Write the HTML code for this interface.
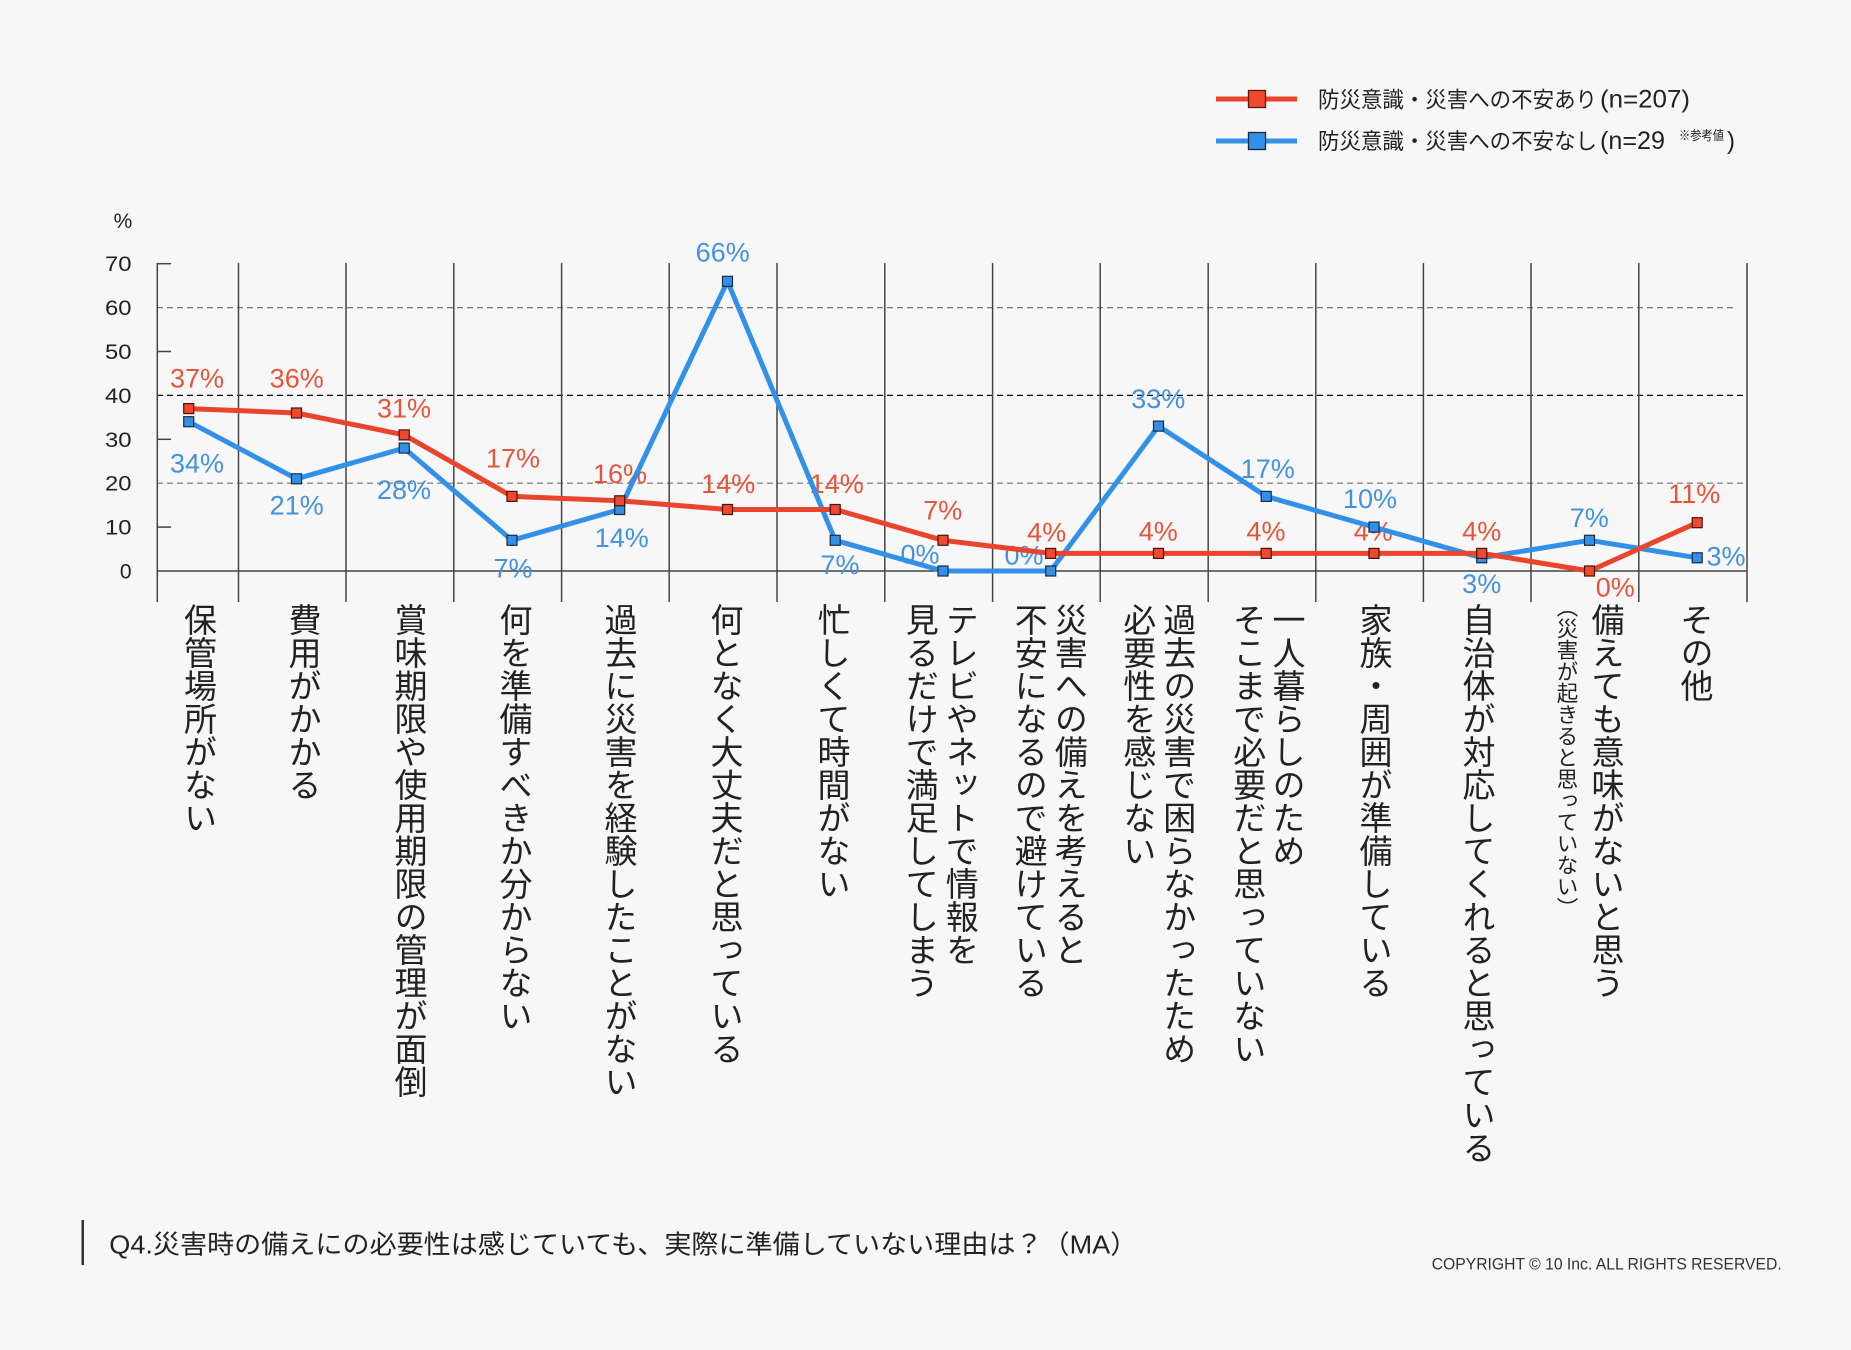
<!DOCTYPE html>
<html lang="ja">
<head>
<meta charset="utf-8">
<style>
  html,body{margin:0;padding:0;}
  body{width:1851px;height:1350px;overflow:hidden;background:#f7f7f7;position:relative;
       font-family:"Liberation Sans","Noto Sans CJK JP",sans-serif;}
  svg{position:absolute;left:0;top:0;}
  .v{position:absolute;top:603px;writing-mode:vertical-rl;font-family:"Liberation Sans","Noto Sans CJK JP",sans-serif;
     font-size:33px;line-height:40px;width:40px;white-space:nowrap;color:#222;}
  .vs{position:absolute;top:596px;writing-mode:vertical-rl;font-family:"Liberation Sans","Noto Sans CJK JP",sans-serif;
     font-size:21.5px;line-height:26px;width:26px;white-space:nowrap;color:#222;}
</style>
</head>
<body>
<svg width="1851" height="1350" viewBox="0 0 1851 1350" xmlns="http://www.w3.org/2000/svg">
  <!-- legend -->
  <g>
    <line x1="1216" y1="99" x2="1297" y2="99" stroke="#e8452c" stroke-width="5"/>
    <rect x="1248.5" y="90.5" width="17" height="17" fill="#ef4a30" stroke="#5a1a10" stroke-width="1.3"/>
    <line x1="1216" y1="141" x2="1297" y2="141" stroke="#3390e8" stroke-width="5"/>
    <rect x="1248.5" y="132.5" width="17" height="17" fill="#3390e8" stroke="#1a2a40" stroke-width="1.3"/>
    <text font-family="Liberation Sans, Noto Sans CJK JP, sans-serif" font-size="22" fill="#222">
      <tspan x="1318" y="107.5" textLength="279" lengthAdjust="spacingAndGlyphs">防災意識・災害への不安あり</tspan>
      <tspan x="1600" y="107.5" font-size="25" textLength="90" lengthAdjust="spacingAndGlyphs">(n=207)</tspan>
    </text>
    <text font-family="Liberation Sans, Noto Sans CJK JP, sans-serif" font-size="22" fill="#222">
      <tspan x="1318" y="149" textLength="279" lengthAdjust="spacingAndGlyphs">防災意識・災害への不安なし</tspan>
      <tspan x="1600" y="149" font-size="25" textLength="65" lengthAdjust="spacingAndGlyphs">(n=29</tspan>
      <tspan x="1679" y="140" font-size="13" textLength="45" lengthAdjust="spacingAndGlyphs">※参考値</tspan>
      <tspan x="1727" y="149" font-size="25" textLength="8" lengthAdjust="spacingAndGlyphs">)</tspan>
    </text>
  </g>

  <!-- y axis labels -->
  <g font-family="Liberation Sans, sans-serif" font-size="21" fill="#222" text-anchor="end">
    <text x="123" y="228" text-anchor="middle">%</text>
    <text x="131.5" y="271.2" textLength="26.5" lengthAdjust="spacingAndGlyphs">70</text>
    <text x="131.5" y="315.1" textLength="26.5" lengthAdjust="spacingAndGlyphs">60</text>
    <text x="131.5" y="359.0" textLength="26.5" lengthAdjust="spacingAndGlyphs">50</text>
    <text x="131.5" y="402.9" textLength="26.5" lengthAdjust="spacingAndGlyphs">40</text>
    <text x="131.5" y="446.8" textLength="26.5" lengthAdjust="spacingAndGlyphs">30</text>
    <text x="131.5" y="490.7" textLength="26.5" lengthAdjust="spacingAndGlyphs">20</text>
    <text x="131.5" y="534.6" textLength="26.5" lengthAdjust="spacingAndGlyphs">10</text>
    <text x="131.5" y="578.5">0</text>
  </g>

  <!-- gridlines -->
  <g fill="none">
    <line x1="157" y1="307.6" x2="1734" y2="307.6" stroke="#777" stroke-width="1.3" stroke-dasharray="6,4"/>
    <line x1="157" y1="395.4" x2="1744" y2="395.4" stroke="#111" stroke-width="1.3" stroke-dasharray="6,4"/>
    <line x1="157" y1="483.2" x2="1744" y2="483.2" stroke="#888" stroke-width="1.3" stroke-dasharray="6,4"/>
    <line x1="157" y1="571" x2="1747" y2="571" stroke="#444" stroke-width="1.6"/>
    <!-- ticks -->
    <line x1="157" y1="263.7" x2="171" y2="263.7" stroke="#444" stroke-width="1.5"/>
    <line x1="157" y1="351.5" x2="171" y2="351.5" stroke="#444" stroke-width="1.5"/>
    <line x1="157" y1="439.3" x2="171" y2="439.3" stroke="#444" stroke-width="1.5"/>
    <line x1="157" y1="527.1" x2="171" y2="527.1" stroke="#444" stroke-width="1.5"/>
    <!-- vertical lines -->
    <g stroke="#444" stroke-width="1.5">
      <line x1="157.3" y1="263" x2="157.3" y2="602"/>
      <line x1="238.5" y1="263" x2="238.5" y2="602"/>
      <line x1="346" y1="263" x2="346" y2="602"/>
      <line x1="453.8" y1="263" x2="453.8" y2="602"/>
      <line x1="561.6" y1="263" x2="561.6" y2="602"/>
      <line x1="669.2" y1="263" x2="669.2" y2="602"/>
      <line x1="777" y1="263" x2="777" y2="602"/>
      <line x1="884.8" y1="263" x2="884.8" y2="602"/>
      <line x1="992.6" y1="263" x2="992.6" y2="602"/>
      <line x1="1100.2" y1="263" x2="1100.2" y2="602"/>
      <line x1="1208.2" y1="263" x2="1208.2" y2="602"/>
      <line x1="1315.8" y1="263" x2="1315.8" y2="602"/>
      <line x1="1423.4" y1="263" x2="1423.4" y2="602"/>
      <line x1="1531" y1="263" x2="1531" y2="602"/>
      <line x1="1638.8" y1="263" x2="1638.8" y2="602"/>
      <line x1="1747" y1="263" x2="1747" y2="602"/>
    </g>
  </g>

  <!-- data labels -->
  <g font-family="Liberation Sans, sans-serif" font-size="27" text-anchor="middle">
    <g fill="#e5553b">
      <text x="197" y="387.7">37%</text>
      <text x="296.7" y="387.7">36%</text>
      <text x="404" y="417.7">31%</text>
      <text x="513" y="467.7">17%</text>
      <text x="620" y="483">16%</text>
      <text x="728.3" y="493">14%</text>
      <text x="836.7" y="493">14%</text>
      <text x="942.7" y="519.7">7%</text>
      <text x="1046.7" y="541.4">4%</text>
      <text x="1158.3" y="540.4">4%</text>
      <text x="1266" y="540.4">4%</text>
      <text x="1373.3" y="540.4">4%</text>
      <text x="1481.7" y="540.4">4%</text>
      <text x="1615.3" y="596.4">0%</text>
      <text x="1694.3" y="503">11%</text>
    </g>
    <g fill="#4392dc">
      <text x="197" y="472.4">34%</text>
      <text x="296.7" y="514.7">21%</text>
      <text x="404" y="499">28%</text>
      <text x="513" y="577.4">7%</text>
      <text x="621.7" y="547">14%</text>
      <text x="722.7" y="261.4">66%</text>
      <text x="840" y="574">7%</text>
      <text x="920" y="563.7">0%</text>
      <text x="1024" y="564.7">0%</text>
      <text x="1158.3" y="408">33%</text>
      <text x="1267.7" y="478">17%</text>
      <text x="1370" y="508">10%</text>
      <text x="1481.7" y="593">3%</text>
      <text x="1589.3" y="527">7%</text>
      <text x="1726" y="565.7">3%</text>
    </g>
  </g>

  <!-- series lines -->
  <polyline fill="none" stroke="#3390e8" stroke-width="5" stroke-linejoin="round"
    points="188.7,421.7 296.5,478.8 404.2,448.1 512,540.3 619.7,509.5 727.5,281.3 835.2,540.3 943,571 1050.7,571 1158.5,426.1 1266.2,496.4 1374,527.1 1481.7,557.8 1589.5,540.3 1697.2,557.8"/>
  <polyline fill="none" stroke="#e8452c" stroke-width="5" stroke-linejoin="round"
    points="188.7,408.6 296.5,413 404.2,434.9 512,496.4 619.7,500.8 727.5,509.5 835.2,509.5 943,540.3 1050.7,553.4 1158.5,553.4 1266.2,553.4 1374,553.4 1481.7,553.4 1589.5,571 1697.2,522.7"/>

  <!-- blue markers -->
  <g fill="#3390e8" stroke="#1a2a40" stroke-width="1.2">
    <rect x="183.7" y="416.7" width="10" height="10"/>
    <rect x="291.5" y="473.8" width="10" height="10"/>
    <rect x="399.2" y="443.1" width="10" height="10"/>
    <rect x="507" y="535.3" width="10" height="10"/>
    <rect x="614.7" y="504.5" width="10" height="10"/>
    <rect x="722.5" y="276.3" width="10" height="10"/>
    <rect x="830.2" y="535.3" width="10" height="10"/>
    <rect x="938" y="566" width="10" height="10"/>
    <rect x="1045.7" y="566" width="10" height="10"/>
    <rect x="1153.5" y="421.1" width="10" height="10"/>
    <rect x="1261.2" y="491.4" width="10" height="10"/>
    <rect x="1369" y="522.1" width="10" height="10"/>
    <rect x="1476.7" y="552.8" width="10" height="10"/>
    <rect x="1584.5" y="535.3" width="10" height="10"/>
    <rect x="1692.2" y="552.8" width="10" height="10"/>
  </g>
  <!-- red markers -->
  <g fill="#ef4a30" stroke="#4a1208" stroke-width="1.2">
    <rect x="183.7" y="403.6" width="10" height="10"/>
    <rect x="291.5" y="408" width="10" height="10"/>
    <rect x="399.2" y="429.9" width="10" height="10"/>
    <rect x="507" y="491.4" width="10" height="10"/>
    <rect x="614.7" y="495.8" width="10" height="10"/>
    <rect x="722.5" y="504.5" width="10" height="10"/>
    <rect x="830.2" y="504.5" width="10" height="10"/>
    <rect x="938" y="535.3" width="10" height="10"/>
    <rect x="1045.7" y="548.4" width="10" height="10"/>
    <rect x="1153.5" y="548.4" width="10" height="10"/>
    <rect x="1261.2" y="548.4" width="10" height="10"/>
    <rect x="1369" y="548.4" width="10" height="10"/>
    <rect x="1476.7" y="548.4" width="10" height="10"/>
    <rect x="1584.5" y="566" width="10" height="10"/>
    <rect x="1692.2" y="517.7" width="10" height="10"/>
  </g>

  <!-- footer -->
  <rect x="81.5" y="1220" width="2.5" height="45" fill="#333"/>
  <text x="109.3" y="1253.3" font-family="Liberation Sans, Noto Sans CJK JP, sans-serif" font-size="26" fill="#222"
        textLength="1028" lengthAdjust="spacingAndGlyphs">Q4.災害時の備えにの必要性は感じていても、実際に準備していない理由は？（MA）</text>
  <text x="1431.7" y="1269.3" font-family="Liberation Sans, sans-serif" font-size="17" fill="#333"
        textLength="350" lengthAdjust="spacingAndGlyphs">COPYRIGHT © 10 Inc. ALL RIGHTS RESERVED.</text>
</svg>

<!-- vertical category labels -->
<div class="v" style="left:177.5px;">保管場所がない</div>
<div class="v" style="left:282px;">費用がかかる</div>
<div class="v" style="left:388px;">賞味期限や使用期限の管理が面倒</div>
<div class="v" style="left:493px;">何を準備すべきか分からない</div>
<div class="v" style="left:598px;">過去に災害を経験したことがない</div>
<div class="v" style="left:704px;">何となく大丈夫だと思っている</div>
<div class="v" style="left:811px;">忙しくて時間がない</div>
<div class="v" style="left:939.3px;">テレビやネットで情報を</div>
<div class="v" style="left:899.3px;">見るだけで満足してしまう</div>
<div class="v" style="left:1048.3px;">災害への備えを考えると</div>
<div class="v" style="left:1008.3px;">不安になるので避けている</div>
<div class="v" style="left:1156.7px;">過去の災害で困らなかったため</div>
<div class="v" style="left:1116.7px;">必要性を感じない</div>
<div class="v" style="left:1266px;">一人暮らしのため</div>
<div class="v" style="left:1226.7px;">そこまで必要だと思っていない</div>
<div class="v" style="left:1353px;">家族・周囲が準備している</div>
<div class="v" style="left:1456px;">自治体が対応してくれると思っている</div>
<div class="v" style="left:1585px;">備えても意味がないと思う</div>
<div class="vs" style="left:1553px;">（災害が起きると思っていない）</div>
<div class="v" style="left:1674px;">その他</div>
</body>
</html>
